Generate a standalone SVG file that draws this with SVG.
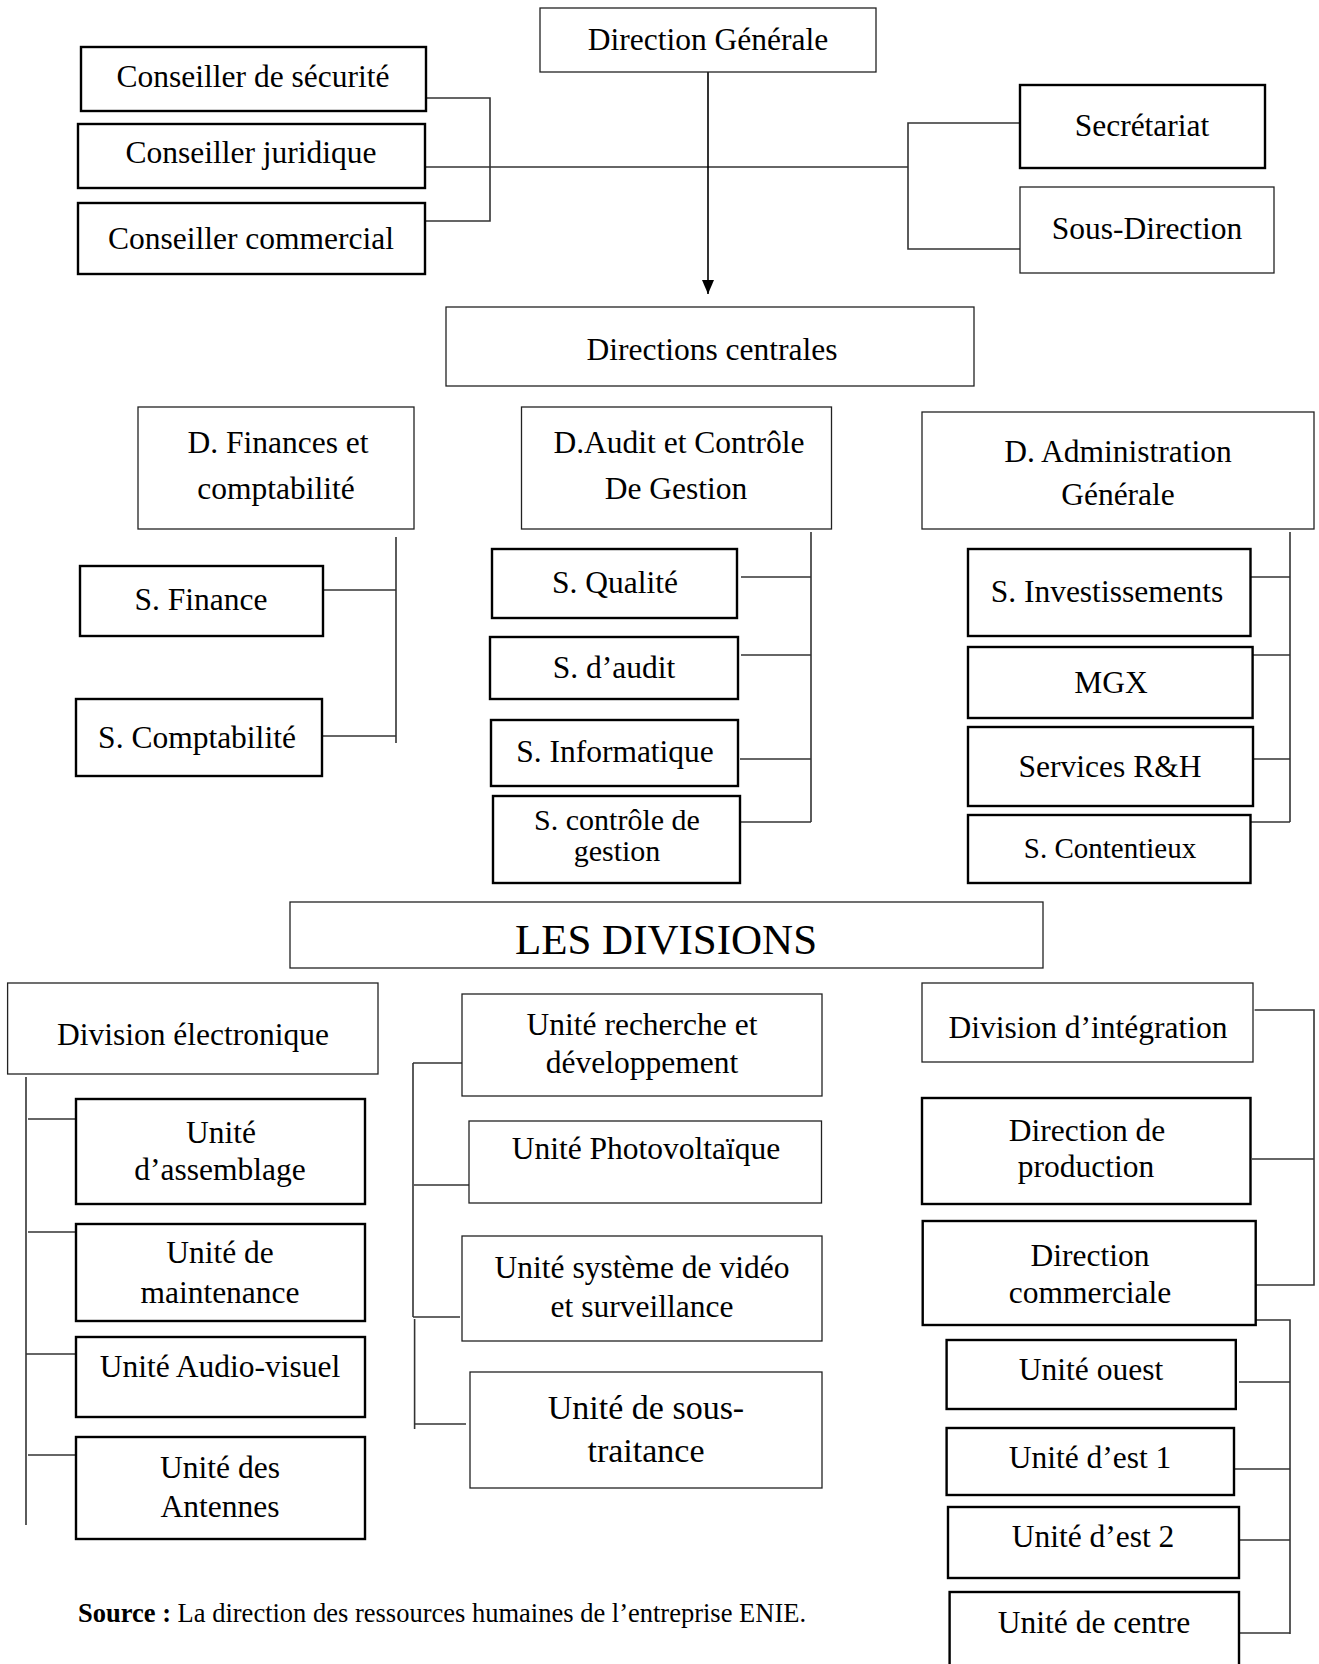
<svg xmlns="http://www.w3.org/2000/svg" width="1319" height="1664" viewBox="0 0 1319 1664">
<style>
  .bk{fill:#fff;stroke:#000;stroke-width:2.4}
  .bn{fill:#fff;stroke:#222;stroke-width:1.3}
  .t{font-family:"Liberation Serif","Times New Roman",serif;font-size:31.5px;fill:#000;text-anchor:middle}
  .c{fill:none;stroke:#333;stroke-width:1.6}
</style>
<defs>
  <marker id="ah" markerWidth="14" markerHeight="12" refX="14" refY="6" orient="auto" markerUnits="userSpaceOnUse">
    <path d="M0,0 L14,6 L0,12 Z" fill="#000"/>
  </marker>
</defs>
<rect width="1319" height="1664" fill="#fff"/>

<g id="connectors">
  <polyline class="c" points="426,98 490,98 490,221 425,221"/>
  <line class="c" x1="425" y1="167" x2="908" y2="167"/>
  <polyline class="c" points="1020,123 908,123 908,249 1020,249"/>
  <line x1="708" y1="72" x2="708" y2="294" stroke="#000" stroke-width="1.6" marker-end="url(#ah)"/>
  <line class="c" x1="396" y1="537" x2="396" y2="743"/>
  <line class="c" x1="323" y1="590" x2="396" y2="590"/>
  <line class="c" x1="322" y1="736" x2="396" y2="736"/>
  <line class="c" x1="811" y1="532" x2="811" y2="822"/>
  <line class="c" x1="741" y1="577" x2="811" y2="577"/>
  <line class="c" x1="741" y1="655" x2="811" y2="655"/>
  <line class="c" x1="740" y1="759" x2="811" y2="759"/>
  <line class="c" x1="741" y1="822" x2="811" y2="822"/>
  <line class="c" x1="1290" y1="532" x2="1290" y2="822"/>
  <line class="c" x1="1250" y1="577" x2="1290" y2="577"/>
  <line class="c" x1="1250" y1="655" x2="1290" y2="655"/>
  <line class="c" x1="1253" y1="759" x2="1290" y2="759"/>
  <line class="c" x1="1250" y1="822" x2="1290" y2="822"/>
  <line class="c" x1="26" y1="1077" x2="26" y2="1525"/>
  <line class="c" x1="28" y1="1119" x2="76" y2="1119"/>
  <line class="c" x1="28" y1="1232" x2="77" y2="1232"/>
  <line class="c" x1="26" y1="1354" x2="76" y2="1354"/>
  <line class="c" x1="28" y1="1455" x2="76" y2="1455"/>
  <line class="c" x1="413" y1="1063" x2="413" y2="1317"/>
  <line class="c" x1="414.6" y1="1319" x2="414.6" y2="1429"/>
  <line class="c" x1="413" y1="1063" x2="462" y2="1063"/>
  <line class="c" x1="414" y1="1185" x2="469" y2="1185"/>
  <line class="c" x1="413" y1="1317" x2="460" y2="1317"/>
  <line class="c" x1="414.6" y1="1424" x2="466" y2="1424"/>
  <polyline class="c" points="1254.6,1010 1314,1010 1314,1285 1256,1285"/>
  <line class="c" x1="1252" y1="1159" x2="1314" y2="1159"/>
  <polyline class="c" points="1256,1320 1290,1320 1290,1634"/>
  <line class="c" x1="1239" y1="1382" x2="1290" y2="1382"/>
  <line class="c" x1="1234" y1="1469" x2="1290" y2="1469"/>
  <line class="c" x1="1239" y1="1540" x2="1290" y2="1540"/>
  <line class="c" x1="1239" y1="1633" x2="1290" y2="1633"/>
</g>

<g id="n-dg"><rect class="bn" x="540" y="8" width="336" height="64"/><text class="t" x="708" y="50">Direction Générale</text></g>
<g id="n-cs"><rect class="bk" x="81" y="47" width="345" height="64"/><text class="t" x="253" y="87">Conseiller de sécurité</text></g>
<g id="n-cj"><rect class="bk" x="78" y="124" width="347" height="64"/><text class="t" x="251" y="163">Conseiller juridique</text></g>
<g id="n-cc"><rect class="bk" x="78" y="203" width="347" height="71"/><text class="t" x="251" y="249">Conseiller commercial</text></g>
<g id="n-sec"><rect class="bk" x="1020" y="85" width="245" height="83"/><text class="t" x="1142" y="136">Secrétariat</text></g>
<g id="n-sd"><rect class="bn" x="1020" y="187" width="254" height="86"/><text class="t" x="1147" y="239">Sous-Direction</text></g>
<g id="n-dc"><rect class="bn" x="446" y="307" width="528" height="79"/><text class="t" x="712" y="360">Directions centrales</text></g>

<g id="n-dfin"><rect class="bn" x="138" y="407" width="276" height="122"/><text class="t" x="278" y="453">D. Finances et</text><text class="t" x="276" y="499">comptabilité</text></g>
<g id="n-daud"><rect class="bn" x="521.5" y="407" width="310" height="122"/><text class="t" x="679" y="453">D.Audit et Contrôle</text><text class="t" x="676" y="499">De Gestion</text></g>
<g id="n-dadm"><rect class="bn" x="922" y="412" width="392" height="117"/><text class="t" x="1118" y="462">D. Administration</text><text class="t" x="1118" y="505">Générale</text></g>

<g id="n-sfin"><rect class="bk" x="80" y="566" width="243" height="70"/><text class="t" x="201" y="610">S. Finance</text></g>
<g id="n-scpt"><rect class="bk" x="76" y="699" width="246" height="77"/><text class="t" x="197" y="748">S. Comptabilité</text></g>
<g id="n-squal"><rect class="bk" x="492" y="549" width="245" height="69"/><text class="t" x="615" y="593">S. Qualité</text></g>
<g id="n-saud"><rect class="bk" x="490" y="637" width="248" height="62"/><text class="t" x="614" y="678">S. d’audit</text></g>
<g id="n-sinf"><rect class="bk" x="491" y="720" width="247" height="66"/><text class="t" x="615" y="762">S. Informatique</text></g>
<g id="n-sctl"><rect class="bk" x="493" y="796" width="247" height="87"/><text class="t" x="617" y="830" style="font-size:30px">S. contrôle de</text><text class="t" x="617" y="861" style="font-size:30px">gestion</text></g>

<g id="n-sinv"><rect class="bk" x="968" y="549" width="282.5" height="87"/><text class="t" x="1107" y="602">S. Investissements</text></g>
<g id="n-mgx"><rect class="bk" x="968" y="647" width="284.6" height="71"/><text class="t" x="1111" y="693">MGX</text></g>
<g id="n-srh"><rect class="bk" x="968" y="727" width="285" height="79"/><text class="t" x="1110" y="777">Services R&amp;H</text></g>
<g id="n-scont"><rect class="bk" x="968" y="815" width="282.5" height="68"/><text class="t" x="1110" y="858" style="font-size:29px">S. Contentieux</text></g>

<g id="n-div"><rect class="bn" x="290" y="902" width="753" height="66"/><text class="t" x="666" y="954" style="font-size:43px">LES DIVISIONS</text></g>

<g id="n-delec"><rect class="bn" x="7.6" y="983" width="370.4" height="91"/><text class="t" x="193" y="1045">Division électronique</text></g>
<g id="n-uass"><rect class="bk" x="76" y="1099" width="289" height="105"/><text class="t" x="221" y="1143">Unité</text><text class="t" x="220" y="1180">d’assemblage</text></g>
<g id="n-umai"><rect class="bk" x="76" y="1224" width="289" height="97"/><text class="t" x="220" y="1263">Unité de</text><text class="t" x="220" y="1303">maintenance</text></g>
<g id="n-uav"><rect class="bk" x="76" y="1337" width="289" height="80"/><text class="t" x="220" y="1377">Unité Audio-visuel</text></g>
<g id="n-uant"><rect class="bk" x="76" y="1437" width="289" height="102"/><text class="t" x="220" y="1478">Unité des</text><text class="t" x="220" y="1517">Antennes</text></g>

<g id="n-urd"><rect class="bn" x="462" y="994" width="360" height="102"/><text class="t" x="642" y="1035">Unité recherche et</text><text class="t" x="642" y="1073">développement</text></g>
<g id="n-upv"><rect class="bn" x="469" y="1121" width="352.5" height="82"/><text class="t" x="646" y="1159">Unité Photovoltaïque</text></g>
<g id="n-uvid"><rect class="bn" x="462" y="1236" width="360" height="105"/><text class="t" x="642" y="1278">Unité système de vidéo</text><text class="t" x="642" y="1317">et surveillance</text></g>
<g id="n-ust"><rect class="bn" x="470" y="1372" width="352" height="116"/><text class="t" x="646" y="1419" style="font-size:34px">Unité de sous-</text><text class="t" x="646" y="1462" style="font-size:34px">traitance</text></g>

<g id="n-dint"><rect class="bn" x="922" y="983" width="331" height="79"/><text class="t" x="1088" y="1038">Division d’intégration</text></g>
<g id="n-dprod"><rect class="bk" x="922" y="1098" width="328.5" height="106"/><text class="t" x="1087" y="1141">Direction de</text><text class="t" x="1086" y="1177">production</text></g>
<g id="n-dcom"><rect class="bk" x="922.7" y="1221" width="333" height="104"/><text class="t" x="1090" y="1266">Direction</text><text class="t" x="1090" y="1303">commerciale</text></g>
<g id="n-uou"><rect class="bk" x="946.6" y="1340" width="289.2" height="69"/><text class="t" x="1091" y="1380">Unité ouest</text></g>
<g id="n-ue1"><rect class="bk" x="946.6" y="1428" width="287.4" height="67"/><text class="t" x="1090" y="1468">Unité d’est 1</text></g>
<g id="n-ue2"><rect class="bk" x="948" y="1507" width="291" height="71"/><text class="t" x="1093" y="1547">Unité d’est 2</text></g>
<g id="n-uce"><rect class="bk" x="949.6" y="1592" width="289.4" height="80"/><text class="t" x="1094" y="1633">Unité de centre</text></g>

<text x="78" y="1622" style="font-family:'Liberation Serif','Times New Roman',serif;font-size:26.5px;fill:#000"><tspan font-weight="bold">Source :</tspan> La direction des ressources humaines de l’entreprise ENIE.</text>
</svg>
